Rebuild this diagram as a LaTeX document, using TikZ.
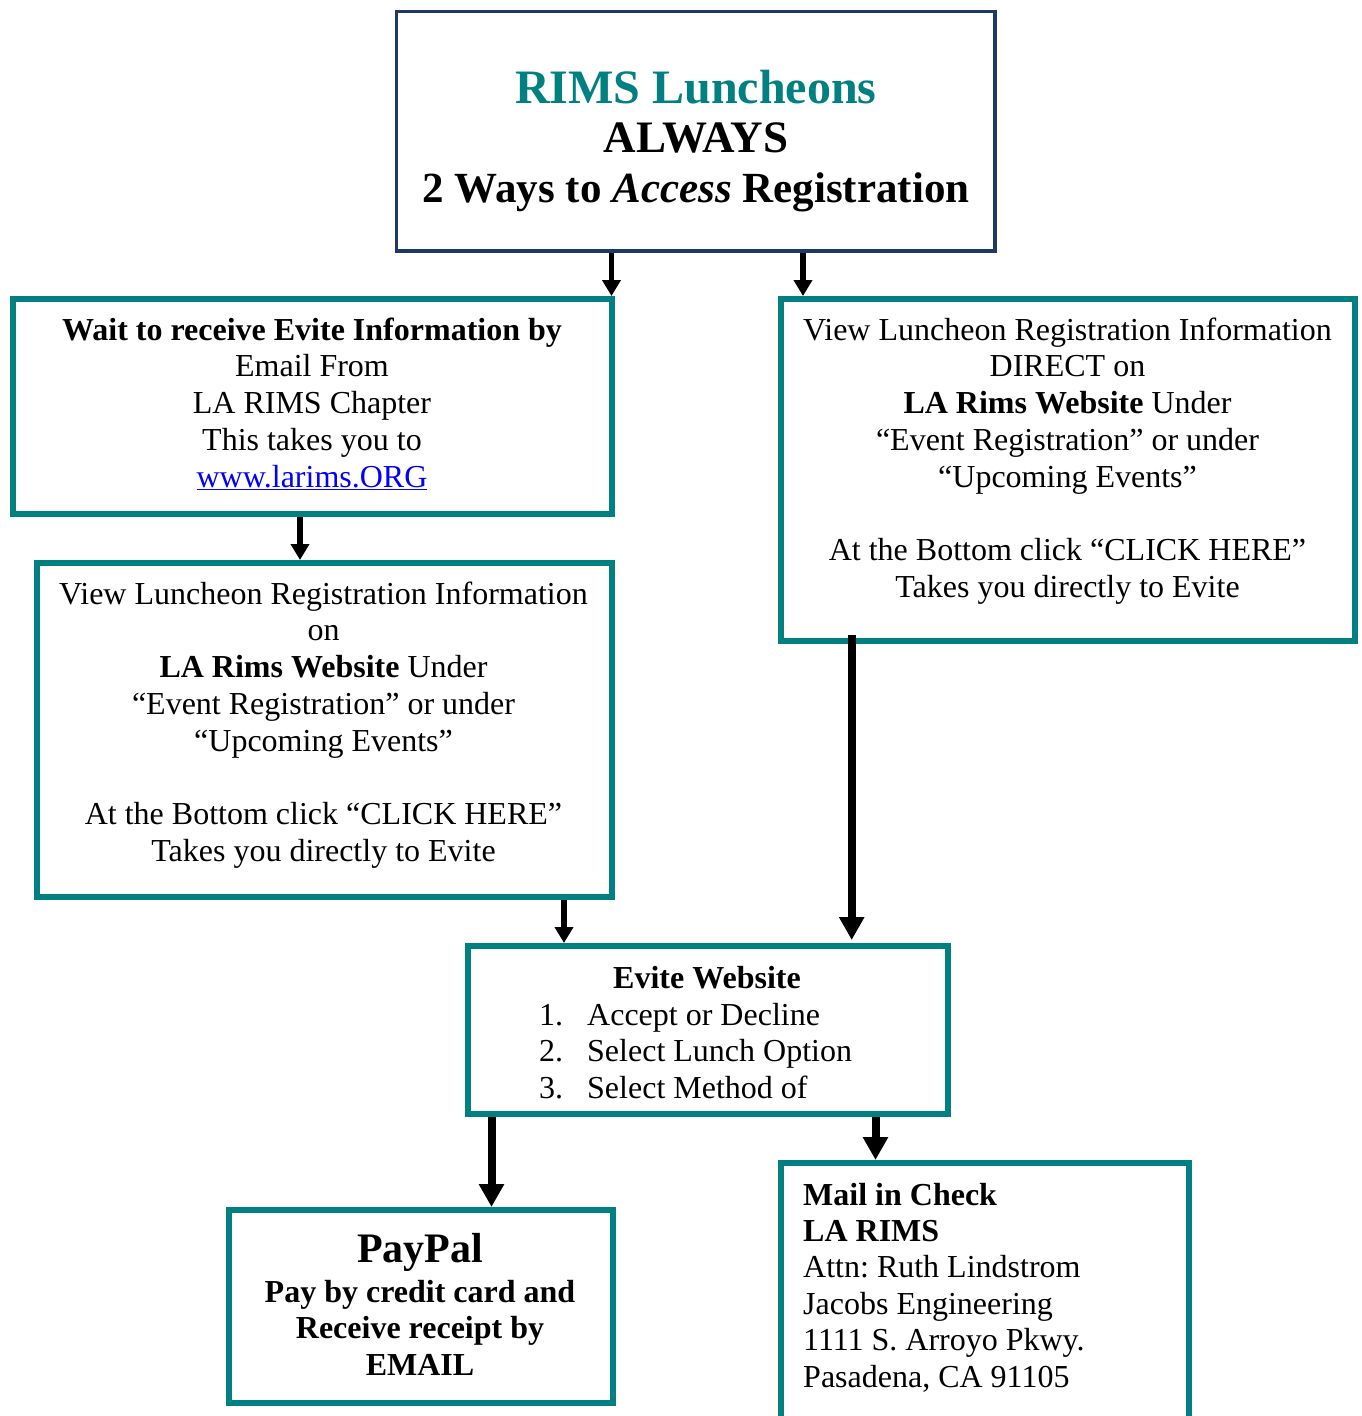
\documentclass[tikz,border=0pt]{standalone}
\usepackage{fontspec}
\setmainfont{Liberation Serif}
\usetikzlibrary{arrows.meta}
\definecolor{boxteal}{RGB}{0,128,128}
\definecolor{boxnavy}{RGB}{30,58,100}
\definecolor{linkblue}{RGB}{0,0,255}
\setlength{\tabcolsep}{0pt}
\frenchspacing
\begin{document}
\begin{tikzpicture}[x=1pt,y=-1pt,
  navybox/.style={draw=boxnavy,line width=3.5pt,rectangle,inner sep=0pt,fill=white},
  tealbox/.style={draw=boxteal,line width=6pt,rectangle,inner sep=0pt,fill=white},
  body/.style={inner sep=0pt,anchor=base,font=\fontsize{32}{36.75}\selectfont},
  thinarrow/.style={line width=5.5pt,-{Triangle[width=18pt,length=16pt]}},
  thickarrow/.style={line width=8pt,-{Triangle[width=24pt,length=23pt]}}]
\useasboundingbox (0,0) rectangle (1362,1416);

% boxes
\node[navybox,minimum width=598.5pt,minimum height=239.3pt] (T) at (695.75,131.35) {};
\node[tealbox,minimum width=598.5pt,minimum height=215pt] (A) at (312.25,406.5) {};
\node[tealbox,minimum width=574pt,minimum height=341.5pt] (B) at (1068,469.75) {};
\node[tealbox,minimum width=574.5pt,minimum height=334pt] (C) at (324.25,730) {};
\node[tealbox,minimum width=479.5pt,minimum height=167.5pt] (E) at (707.75,1029.75) {};
\node[tealbox,minimum width=383.5pt,minimum height=192.5pt] (P) at (420.75,1306.25) {};
\node[tealbox,minimum width=408pt,minimum height=337pt] (M) at (985,1331.5) {};

% texts
\node[body,font=\fontsize{43}{49.5}\selectfont\bfseries] (Tt) at (696,103)
 {\begin{tabular}[t]{c}
  {\fontsize{48}{49.5}\selectfont\color{boxteal}RIMS Luncheons}\\
  {\fontsize{45}{49.5}\selectfont ALWAYS}\\
  2 Ways to \textit{Access} Registration
 \end{tabular}};

\node[body] (At) at (312,340)
 {\begin{tabular}[t]{c}
  \textbf{Wait to receive Evite Information by}\\
  Email From\\
  LA RIMS Chapter\\
  This takes you to\\
  {\color{linkblue}\underline{www.larims.ORG}}
 \end{tabular}};

\node[body] (Bt) at (1067.5,340)
 {\begin{tabular}[t]{c}
  View Luncheon Registration Information\\
  DIRECT on\\
  \textbf{LA Rims Website} Under\\
  “Event Registration” or under\\
  “Upcoming Events”\\
  \\
  At the Bottom click “CLICK HERE”\\
  Takes you directly to Evite
 \end{tabular}};

\node[body] (Ct) at (323.5,604)
 {\begin{tabular}[t]{c}
  View Luncheon Registration Information\\
  on\\
  \textbf{LA Rims Website} Under\\
  “Event Registration” or under\\
  “Upcoming Events”\\
  \\
  At the Bottom click “CLICK HERE”\\
  Takes you directly to Evite
 \end{tabular}};

\node[body,font=\fontsize{32}{36.75}\selectfont\bfseries] (Eh) at (707,988) {Evite Website};
\node[body,anchor=base west] (El) at (539,1025)
 {\begin{tabular}[t]{l}
  \makebox[48pt][l]{1.}Accept or Decline\\
  \makebox[48pt][l]{2.}Select Lunch Option\\
  \makebox[48pt][l]{3.}Select Method of
 \end{tabular}};

\node[body,font=\fontsize{32}{36.75}\selectfont\bfseries] (Pt) at (420,1262)
 {\begin{tabular}[t]{c}
  {\fontsize{42}{44}\selectfont PayPal}\\[3.25pt]
  Pay by credit card and\\
  Receive receipt by\\
  EMAIL
 \end{tabular}};

\node[body,anchor=base west,font=\fontsize{32}{36.4}\selectfont] (Mt) at (803,1205)
 {\begin{tabular}[t]{l}
  \textbf{Mail in Check}\\
  \textbf{LA RIMS}\\
  Attn: Ruth Lindstrom\\
  Jacobs Engineering\\
  1111 S. Arroyo Pkwy.\\
  Pasadena, CA 91105
 \end{tabular}};

% arrow columns
\coordinate (x1) at (611.5,0);
\coordinate (x2) at (803,0);
\coordinate (x3) at (300,0);
\coordinate (x4) at (564,0);
\coordinate (x5) at (851.7,0);
\coordinate (x6) at (491.5,0);
\coordinate (x7) at (875.5,0);

\draw[thinarrow] (T.south -| x1) -- (A.north -| x1);
\draw[thinarrow] (T.south -| x2) -- (B.north -| x2);
\draw[thinarrow] (A.south -| x3) -- (C.north -| x3);
\draw[thinarrow] (C.south -| x4) -- (E.north -| x4);
\draw[thickarrow] ([yshift=9pt]B.south -| x5) -- ([yshift=3pt]E.north -| x5);
\draw[thickarrow] (E.south -| x6) -- (P.north -| x6);
\draw[thickarrow] (E.south -| x7) -- (M.north -| x7);
\end{tikzpicture}
\end{document}
